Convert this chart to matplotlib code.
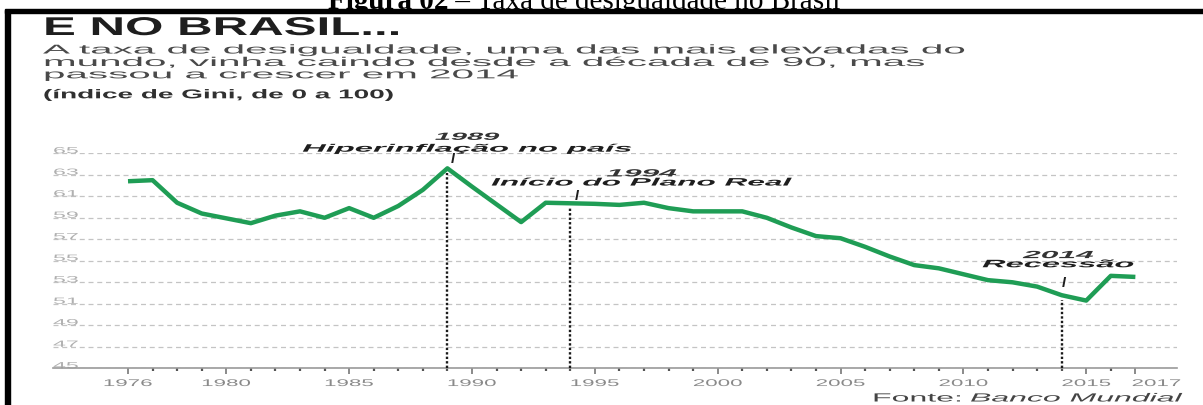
import numpy as np
import matplotlib
matplotlib.use("Agg")
import matplotlib.pyplot as plt
from matplotlib.patheffects import AbstractPathEffect
from matplotlib.transforms import Affine2D, Bbox
from matplotlib.patches import Rectangle

# ---------------- data ----------------
years = [1976, 1977, 1978, 1979, 1981, 1982, 1983, 1984, 1985, 1986, 1987, 1988,
         1989, 1990, 1992, 1993, 1995, 1996, 1997, 1998, 1999, 2001, 2002, 2003,
         2004, 2005, 2006, 2007, 2008, 2009, 2011, 2012, 2013, 2014, 2015, 2016, 2017]
gini = [62.4, 62.5, 60.4, 59.4, 58.5, 59.2, 59.6, 59.0, 59.9, 59.0, 60.1, 61.6,
        63.6, 61.9, 58.6, 60.4, 60.3, 60.2, 60.4, 59.9, 59.6, 59.6, 59.0, 58.1,
        57.3, 57.1, 56.3, 55.4, 54.6, 54.3, 53.2, 53.0, 52.6, 51.8, 51.3, 53.6, 53.5]

major_years = [1976, 1980, 1985, 1990, 1995, 2000, 2005, 2010, 2015, 2017]
minor_years = [y for y in range(1976, 2018) if y not in major_years]
y_ticks = list(range(45, 66, 2))

event_years = [1989, 1994, 2014]
event_texts = ["Hiperinflação no país", "Início do Plano Real", "Recessão"]

caption_bold = "Figura 02"
caption_rest = " – Taxa de desigualdade no Brasil"
title = "E NO BRASIL..."
subtitle = ["A taxa de desigualdade, uma das mais elevadas do",
            "mundo, vinha caindo desde a década de 90, mas",
            "passou a crescer em 2014"]
unit = "(índice de Gini, de 0 a 100)"
source_a = "Fonte:"
source_b = "Banco Mundial"

W, H = 1203, 405
GREEN = "#1f9d55"


class Stretch(AbstractPathEffect):
    """Horizontally widen text glyphs (the reference uses an extended typeface)."""
    def __init__(self, sx, anchor="left", dx=0.0):
        super().__init__()
        self.sx, self.anchor, self.dx = sx, anchor, dx

    def draw_path(self, renderer, gc, tpath, affine, rgbFace=None):
        cx = 0.0
        if self.anchor != "left" and len(tpath.vertices):
            ext = tpath.get_extents()
            cx = (ext.x0 + ext.x1) / 2 if self.anchor == "center" else ext.x1
        tr = (Affine2D().translate(-cx, 0).scale(self.sx, 1).translate(cx, 0)
              + affine + Affine2D().translate(self.dx, 0))
        renderer.draw_path(gc, tpath, tr, rgbFace)


def fx(x):
    return x / W


def fy(y):
    return 1 - y / H


fig = plt.figure(figsize=(W / 100, H / 100), dpi=100)
fig.patch.set_facecolor("white")
renderer = fig.canvas.get_renderer()


def fit(t, target, anchor="left", dx=0.0):
    w = t.get_window_extent(renderer).width
    sx = target / w
    t.set_path_effects([Stretch(sx, anchor, dx)])
    return sx


# ---------------- axes ----------------
x_left, x_right = 53, 1177
y_top, y_bot = 153.3, 368.3
ax = fig.add_axes([fx(x_left), fy(y_bot), (x_right - x_left) / W, (y_bot - y_top) / H])
px_per_year = 24.57
ax.set_xlim(1976 - (128 - x_left) / px_per_year, 1976 + (x_right - 128) / px_per_year)
ax.set_ylim(45, 65)
for s in ["top", "right", "left"]:
    ax.spines[s].set_visible(False)
ax.spines["bottom"].set_color("#9a9a9a")
ax.spines["bottom"].set_linewidth(1.2)

ax.set_yticks(y_ticks)
ax.yaxis.grid(True, linestyle=(0, (4, 3)), color="#c4c4c4", linewidth=0.9)
ax.tick_params(axis="y", length=0, pad=0, labelsize=6.5, labelcolor="#b0b0b0")
for lab in ax.get_yticklabels():
    lab.set_ha("left")
    lab.set_va("baseline")
    lab.set_family("Liberation Sans")

ax.set_xticks(major_years)
ax.set_xticklabels([str(y) for y in major_years])
ax.set_xticks(minor_years, minor=True)
ax.tick_params(axis="x", which="major", length=4, width=1.2, color="#777777",
               pad=3.0, labelsize=7, labelcolor="#8a8a8a")
ax.tick_params(axis="x", which="minor", length=2, width=1.6, color="#555555")
for lab in ax.get_xticklabels():
    lab.set_family("Liberation Sans")

ax.plot(years, gini, color=GREEN, lw=3.2, solid_joinstyle="round",
        solid_capstyle="butt", zorder=4, clip_on=False)

# event markers
for ey in event_years:
    top = np.interp(ey, years, gini) - 0.45
    ax.vlines(ey, 45, top, colors="#1a1a1a", linestyles=(0, (1, 0.9)),
              linewidth=1.7, zorder=3, clip_on=False)

ann_style = dict(family="Liberation Sans", weight="bold", style="italic",
                 ha="center", clip_on=False)
# (x offset of labels, year baseline, text baseline, marker x offset, marker centre)
ann_pos = [(0.8, 66.25, 65.15, 0.2, 64.5),
           (2.9, 62.85, 62.0, 0.25, 61.05),
           (-0.15, 55.25, 54.4, 0.1, 52.98)]
year_w = [64, 70, 70]
text_w = [330, 300, 152]
ann_artists = []
for ey, et, (dx, yy, yt, mdx, my), yw, tw in zip(event_years, event_texts,
                                                ann_pos, year_w, text_w):
    a = ax.text(ey + dx, yy, str(ey), fontsize=7.5, color="#333333",
                va="baseline", **ann_style)
    b = ax.text(ey + dx, yt, et, fontsize=7.8, color="#1e1e1e",
                va="baseline", **ann_style)
    ax.text(ey + mdx, my, "I", fontsize=10, color="#1e1e1e", va="center", **ann_style)
    ann_artists.append((a, yw))
    ann_artists.append((b, tw))

# ---------------- header texts ----------------
cap1 = fig.text(fx(328), fy(8.6), caption_bold, family="Liberation Serif",
                weight="bold", fontsize=21, va="baseline", ha="left", color="black")
w1 = cap1.get_window_extent(renderer).width
cap2 = fig.text(fx(328 + w1), fy(8.6), caption_rest, family="Liberation Serif",
                fontsize=21, va="baseline", ha="left", color="black")
clip = Bbox([[0, H - 9.4], [W, H]])
for c in (cap1, cap2):
    c.set_clip_box(clip)
    c.set_clip_on(True)

t_title = fig.text(fx(43), fy(35), title, family="Liberation Sans", weight="bold",
                   fontsize=18.5, color="#1e1e1e", va="baseline", ha="left")
fit(t_title, 360)

sub_lines = []
for i, (line, base) in enumerate(zip(subtitle, [53.5, 66.0, 78.3])):
    sub_lines.append(fig.text(fx(43), fy(base), line, family="Liberation Sans",
                              fontsize=9.2, color="#4a4a4a", va="baseline", ha="left"))
sx_sub = sub_lines[0].get_window_extent(renderer).width
sx_sub = 919 / sx_sub
for t in sub_lines:
    t.set_path_effects([Stretch(sx_sub)])

t_unit = fig.text(fx(43), fy(98.3), unit, family="Liberation Sans", weight="bold",
                  fontsize=9.2, color="#303030", va="baseline", ha="left")
fit(t_unit, 350)

s_a = fig.text(fx(872), fy(401.5), source_a, family="Liberation Sans",
               fontsize=8.5, color="#444444", va="baseline", ha="left")
fit(s_a, 91)
s_b = fig.text(fx(970), fy(401.5), source_b, family="Liberation Sans", style="italic",
               fontsize=8.5, color="#444444", va="baseline", ha="left")
fit(s_b, 210)

# border of the boxed figure
fig.add_artist(Rectangle((fx(5), fy(13.3)), 1 - fx(5), 4 / H,
                         transform=fig.transFigure, color="black", zorder=10))
fig.add_artist(Rectangle((fx(5), 0), 5 / W, fy(9.5),
                         transform=fig.transFigure, color="black", zorder=10))

# stretch tick labels / annotations
fig.canvas.draw()
xl = ax.get_xticklabels()
sx_x = 50 / xl[0].get_window_extent(renderer).width
for i, lab in enumerate(xl):
    lab.set_path_effects([Stretch(sx_x, "center", 21 if i == len(xl) - 1 else 0)])
yl = ax.get_yticklabels()
sx_y = 26 / yl[-1].get_window_extent(renderer).width
for lab in yl:
    lab.set_path_effects([Stretch(sx_y, "left")])
for art, tw in ann_artists:
    fit(art, tw, "center")

fig.savefig("out.png", dpi=100, facecolor="white")
